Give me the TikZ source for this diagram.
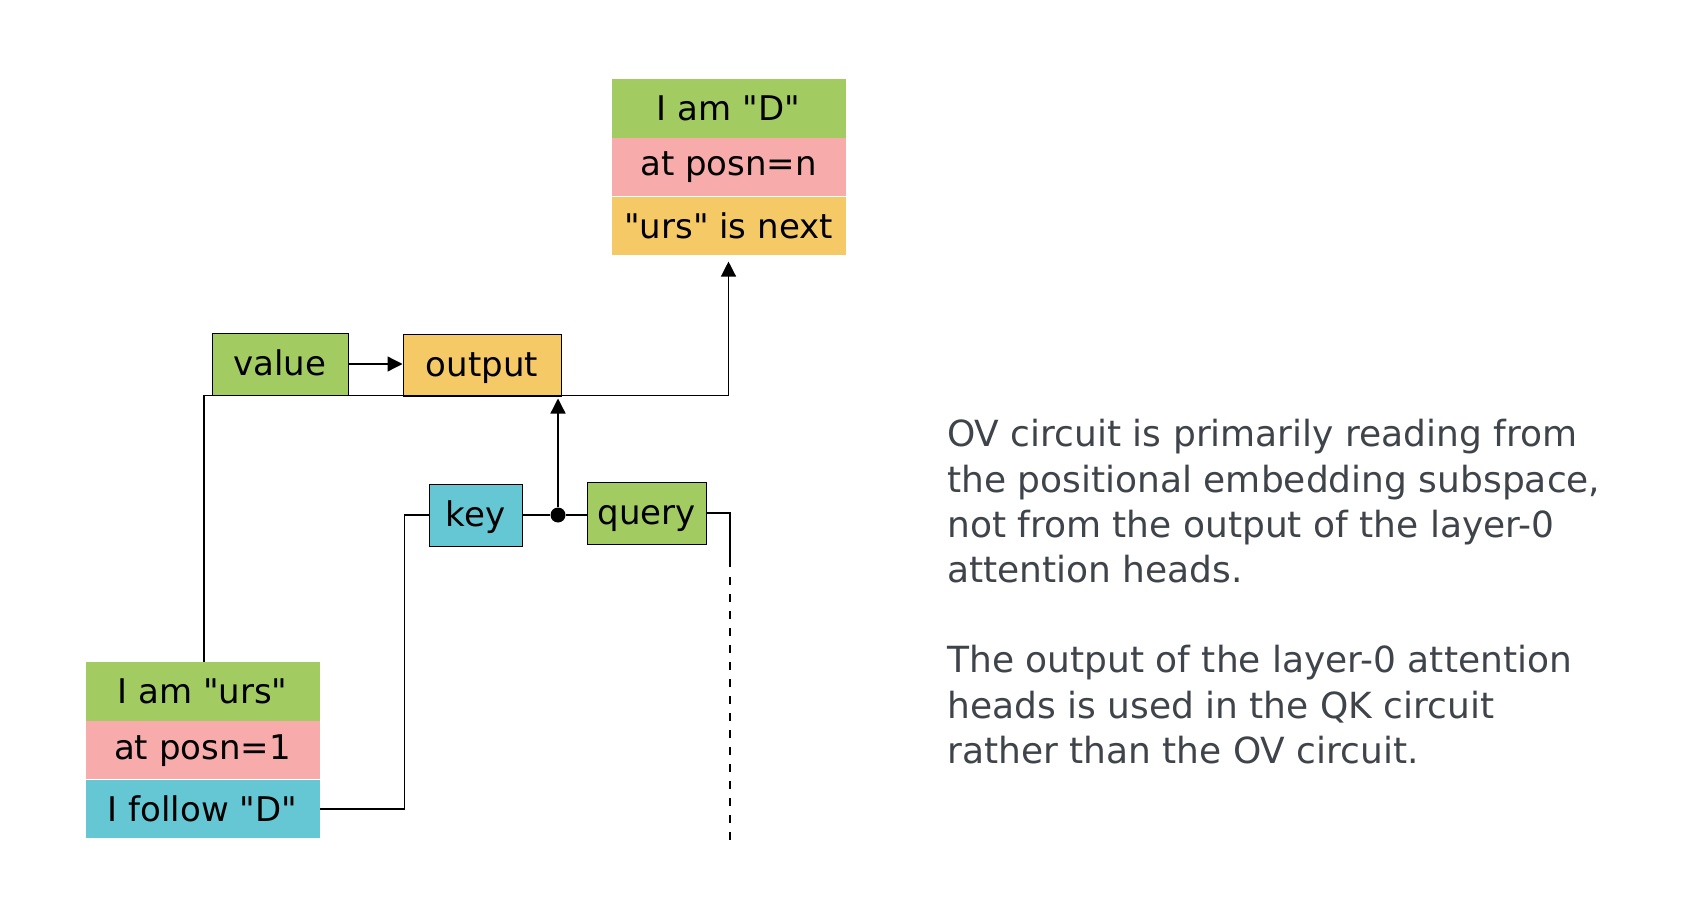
\documentclass[tikz,border=0pt]{standalone}
\usepackage{fontspec}
\setmainfont{DejaVu Sans}[Ligatures=TeXOff]
\usepackage{tikz}
\usetikzlibrary{arrows.meta,positioning,calc}
\usepackage{xcolor}
\definecolor{cgreen}{HTML}{A2CC62}
\definecolor{cpink}{HTML}{F8ABAB}
\definecolor{cyellow}{HTML}{F5C966}
\definecolor{cblue}{HTML}{65C7D3}
\definecolor{notegray}{HTML}{3F434A}
\tikzset{
  cell/.style={minimum width=234pt, minimum height=58.5pt, inner sep=0pt, font=\fontsize{34}{34}\selectfont},
  blk/.style={draw=black, line width=1pt, minimum height=62pt, inner sep=0pt, text height=30pt, text depth=8pt, font=\fontsize{34}{34}\selectfont},
  wire/.style={line width=1.3pt},
  tip/.style={-{Triangle[length=15pt,width=15pt]}},
  note/.style={anchor=base west, inner sep=0pt, text=notegray, font=\fontsize{36}{45}\selectfont},
}

\begin{document}
\begin{tikzpicture}[x=1pt,y=-1pt]
\useasboundingbox (0,0) rectangle (1695,912);

% token at posn=n
\node [cell, fill=cgreen] (tn1) at (728.5,108.3) {I am "D"};
\node [cell, fill=cpink, below=0pt of tn1] (tn2) {at posn=n};
\node [cell, fill=cyellow, below=0pt of tn2] (tn3) {"urs" is next};

% token at posn=1
\node [cell, fill=cgreen] (t11) at (202.5,691.3) {I am "urs"};
\node [cell, fill=cpink, below=0pt of t11] (t12) {at posn=1};
\node [cell, fill=cblue, below=0pt of t12] (t13) {I follow "D"};

\node [blk, fill=cgreen, minimum width=136pt] (value) at (280,364) {value};
\node [blk, fill=cyellow, minimum width=158pt] (output) at (482,365) {output};
\node [blk, fill=cblue, minimum width=93pt] (key) at (475.5,515) {key};
\node [blk, fill=cgreen, minimum width=119pt] (query) at (646.5,513) {query};
\node [circle, fill, inner sep=0pt, minimum size=15pt] (qk) at (558,515) {};

\coordinate (up) at ($(t11.north)+(1.5,0)$);
\coordinate (turn) at ($(tn3.south)+(0,140)$);
\coordinate (qend) at (730,841);

\draw [wire, tip] (value.east) -- (value.east -| output.west);
\draw [wire, tip] (up) |- (turn) -- ($(tn3.south)+(0,6)$);
\draw [wire] (key.east) -- (qk) -- (qk -| query.west);
\draw [wire, tip] (qk) -- ($(qk |- output.south)+(0,2)$);
\draw [wire] (key.west) -- ++(-24,0) |- (t13.east);
\draw [wire] (query.east) -| ($(qend)+(0,-274)$) coordinate (qdash);
\draw [wire, dash pattern=on 8pt off 9pt] ($(qdash)+(0,10)$) -- (qend);

% notes
\node [note] (ov1) at (947,446) {OV circuit is primarily reading from};
\node [note] (ov2) at (947,492) {the positional embedding subspace,};
\node [note] (ov3) at (947,537) {not from the output of the layer-0};
\node [note] (ov4) at (947,582) {attention heads.};
\node [note] (qk1) at (947,672) {The output of the layer-0 attention};
\node [note] (qk2) at (947,718) {heads is used in the QK circuit};
\node [note] (qk3) at (947,763) {rather than the OV circuit.};
\end{tikzpicture}
\end{document}
